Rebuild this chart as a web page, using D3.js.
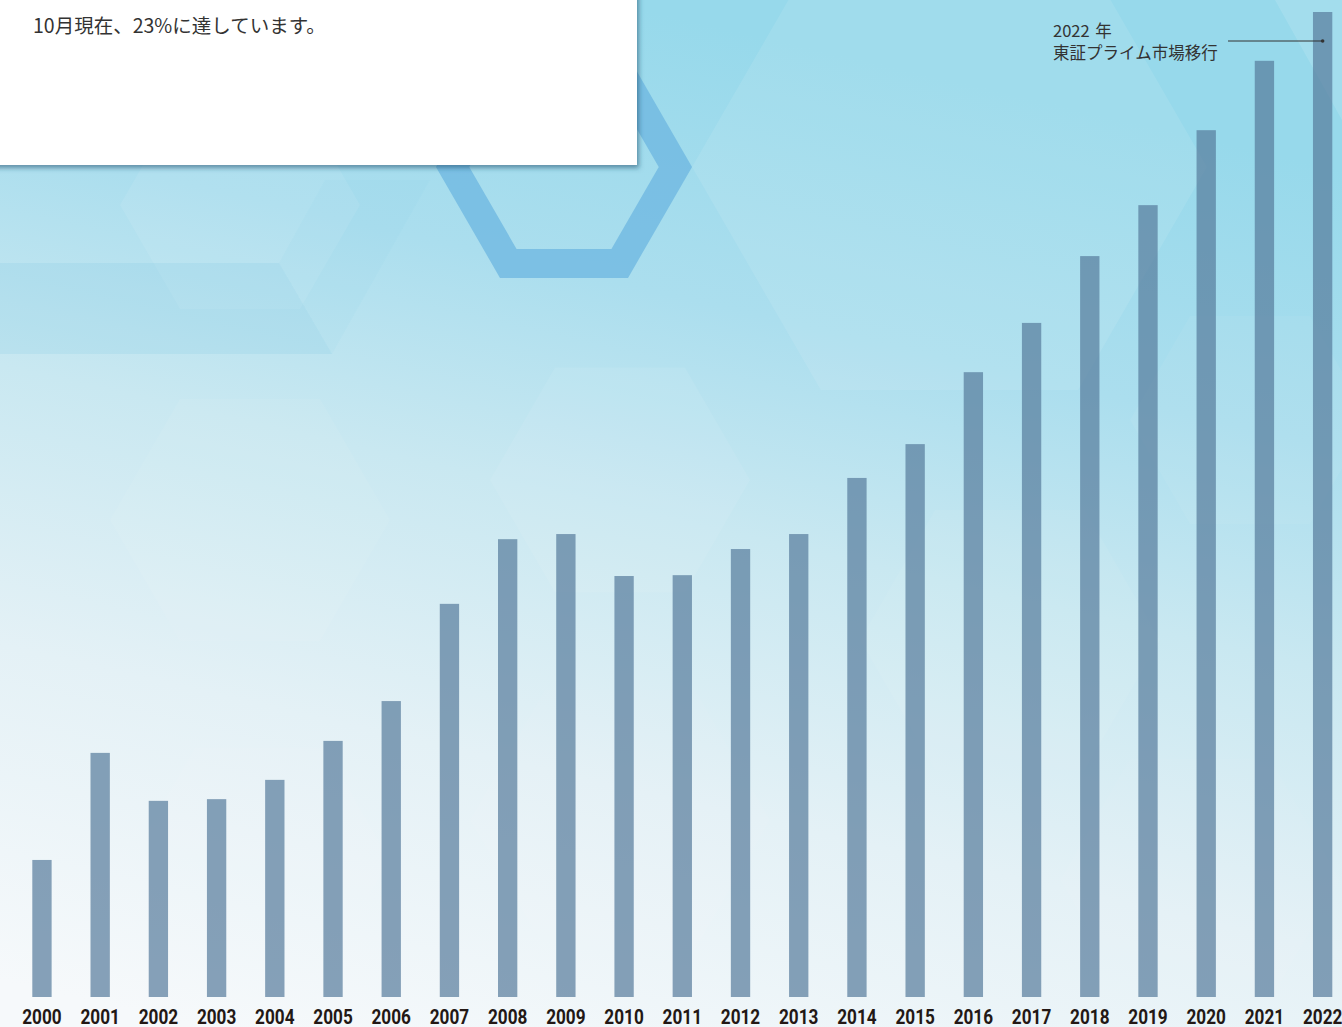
<!DOCTYPE html>
<html lang="ja">
<head>
<meta charset="utf-8">
<script src="https://cdn.jsdelivr.net/npm/d3@7"></script>
<style>
  html, body { margin: 0; padding: 0; overflow: hidden; background: #fff; }
  svg { display: block; }
</style>
</head>
<body>
<svg id="drawing_region"></svg>
<script>
// years on the x axis
const years = ['2000','2001','2002','2003','2004','2005','2006','2007','2008','2009','2010',
               '2011','2012','2013','2014','2015','2016','2017','2018','2019','2020','2021','2022'];

// ratio (%), 2022 = 23%
const values = [3.20, 5.70, 4.58, 4.62, 5.07, 5.98, 6.91, 9.18, 10.69, 10.81, 9.83,
                 9.85, 10.46, 10.81, 12.12, 12.91, 14.59, 15.74, 17.30, 18.49, 20.24, 21.86, 23.0];

const note_text = '10月現在、23%に達しています。';
const annotation_lines = ['2022 年', '東証プライム市場移行'];
const annotation_year = '2022';

const data = years.map( (y, i) => ({ year: y, value: values[i] }) );

var config = {
    parent: '#drawing_region',
    width: 1342,
    height: 1027,
    plot: { left: 32.3, right: 1332.3, top: 12, bottom: 997 }
};

class BarChart {

    constructor( config, data ) {
        this.config = config;
        this.data = data;
        this.init();
    }

    init() {
        let self = this;

        self.svg = d3.select( self.config.parent )
            .attr('width', self.config.width)
            .attr('height', self.config.height);

        const defs = self.svg.append('defs');

        const bg = defs.append('linearGradient')
            .attr('id', 'bg_grad')
            .attr('x1', 0.15).attr('y1', 1)
            .attr('x2', 0.45).attr('y2', 0);
        bg.append('stop').attr('offset', 0).attr('stop-color', '#f6f9fb');
        bg.append('stop').attr('offset', 0.3).attr('stop-color', '#e4f1f6');
        bg.append('stop').attr('offset', 0.55).attr('stop-color', '#c9e8f1');
        bg.append('stop').attr('offset', 0.75).attr('stop-color', '#abdeee');
        bg.append('stop').attr('offset', 1).attr('stop-color', '#97d9eb');

        const shadow = defs.append('filter')
            .attr('id', 'box_shadow')
            .attr('x', -0.1).attr('y', -0.2)
            .attr('width', 1.2).attr('height', 1.5);
        shadow.append('feDropShadow')
            .attr('dx', 2).attr('dy', 3)
            .attr('stdDeviation', 2.5)
            .attr('flood-color', '#1f4e6b')
            .attr('flood-opacity', 0.55);

        self.background = self.svg.append('g');
        self.chart = self.svg.append('g');
        self.overlay = self.svg.append('g');

        self.xscale = d3.scaleBand()
            .domain( years )
            .range( [self.config.plot.left, self.config.plot.right] )
            .paddingInner( 0.668 )
            .paddingOuter( 0 );

        self.yscale = d3.scaleLinear()
            .range( [self.config.plot.bottom, self.config.plot.top] );

        self.xaxis = d3.axisBottom( self.xscale )
            .tickSize(0)
            .tickPadding(13);

        self.xaxis_group = self.chart.append('g')
            .attr('transform', `translate(0, ${self.config.plot.bottom})`);
    }

    update() {
        let self = this;
        self.yscale.domain( [0, d3.max( self.data, d => d.value )] );
        self.render();
    }

    hex( cx, cy, r ) {
        return d3.range(6).map( k => {
            const a = Math.PI / 3 * k;
            return [cx + r * Math.cos(a), cy + r * Math.sin(a)];
        }).map( p => p.join(',') ).join(' ');
    }

    render() {
        let self = this;
        const W = self.config.width, H = self.config.height;

        // background
        self.background.append('rect')
            .attr('width', W).attr('height', H)
            .attr('fill', 'url(#bg_grad)');

        const soft = [
            [240, 205, 120, 0.08], [620, 480, 130, 0.07], [250, 520, 140, 0.06],
            [949.5, 167, 257.5, 0.09], [1010, 640, 150, 0.05], [620, 820, 150, 0.05],
            [260, 860, 130, 0.05], [1250, 420, 120, 0.05], [1200, 880, 140, 0.04]
        ];
        self.background.selectAll('polygon.soft')
            .data(soft)
            .join('polygon')
            .attr('class', 'soft')
            .attr('points', d => self.hex(d[0], d[1], d[2]))
            .attr('fill', '#ffffff')
            .attr('opacity', d => d[3]);

        self.background.append('polygon')
            .attr('points', '0,263 279,263 332,354 0,354')
            .attr('fill', '#6fc0df')
            .attr('opacity', 0.16);

        self.background.append('polygon')
            .attr('points', '279,263 325,180 430,180 332,354')
            .attr('fill', '#7cc6e4')
            .attr('opacity', 0.08);

        self.background.append('polygon')
            .attr('points', '1275,0 1342,0 1342,120')
            .attr('fill', '#ffffff')
            .attr('opacity', 0.12);

        self.background.append('polygon')
            .attr('points', self.hex(564, 167, 111.4))
            .attr('fill', 'none')
            .attr('stroke', '#6cb6e0')
            .attr('stroke-width', 28.8)
            .attr('stroke-opacity', 0.75);

        // bars
        self.chart.selectAll('rect.bar')
            .data(self.data)
            .join('rect')
            .attr('class', 'bar')
            .attr('x', d => self.xscale( d.year ))
            .attr('y', d => self.yscale( d.value ))
            .attr('width', self.xscale.bandwidth())
            .attr('height', d => self.yscale(0) - self.yscale( d.value ))
            .attr('fill', 'rgb(86,123,155)')
            .attr('fill-opacity', 0.7);

        self.xaxis_group.call( self.xaxis );
        self.xaxis_group.select('.domain').remove();
        self.xaxis_group.selectAll('text')
            .attr('fill', '#231815')
            .attr('font-family', 'Roboto, sans-serif')
            .attr('font-weight', 'bold')
            .attr('font-size', '20px')
            .attr('transform', 'scale(0.86,1)');

        // white note box
        self.overlay.append('rect')
            .attr('x', -10).attr('y', -10)
            .attr('width', 647).attr('height', 175)
            .attr('fill', '#ffffff')
            .attr('filter', 'url(#box_shadow)');

        self.overlay.append('text')
            .attr('x', 33).attr('y', 33)
            .attr('fill', '#333333')
            .attr('font-family', '"Noto Sans CJK JP", sans-serif')
            .attr('font-size', '19.5px')
            .text(note_text);

        // annotation for 2022
        const ax = self.xscale( annotation_year ) + self.xscale.bandwidth() / 2;
        const note = self.overlay.append('g')
            .attr('font-family', '"Noto Sans CJK JP", sans-serif')
            .attr('font-size', '16.5px')
            .attr('fill', '#333333');
        note.selectAll('text')
            .data(annotation_lines)
            .join('text')
            .attr('x', 1053)
            .attr('y', (d, i) => 37 + i * 22)
            .attr('word-spacing', '2px')
            .text(d => d);

        note.append('line')
            .attr('x1', 1228).attr('x2', ax)
            .attr('y1', 41).attr('y2', 41)
            .attr('stroke', '#333333')
            .attr('stroke-width', 1);
        note.append('circle')
            .attr('cx', ax).attr('cy', 41).attr('r', 1.8)
            .attr('fill', '#333333');
    }
}

const bar_chart = new BarChart( config, data );
bar_chart.update();
</script>
</body>
</html>
